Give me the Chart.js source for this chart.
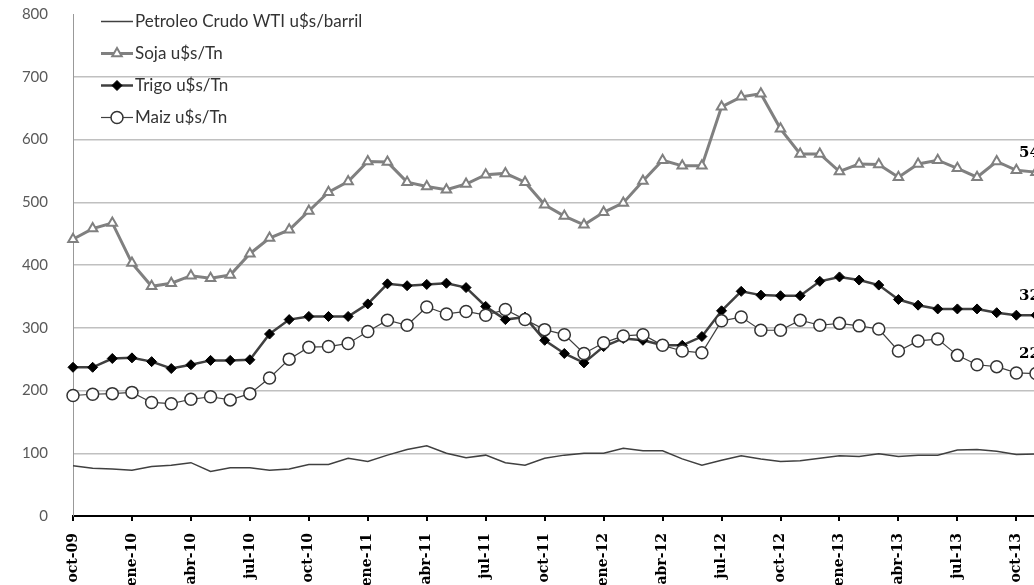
<!DOCTYPE html>
<html>
<head>
<meta charset="utf-8">
<script src="https://cdn.jsdelivr.net/npm/chart.js@4"></script>
<style>
  html, body { margin: 0; padding: 0; background: #fff; overflow: hidden; }
  #wrap { width: 1034px; height: 585px; overflow: hidden; }
</style>
</head>
<body>
<div id="wrap"><canvas id="myChart" width="1080" height="585"></canvas></div>
<script>
// meses oct-09 .. nov-13
const meses = ['oct-09','nov-09','dic-09','ene-10','feb-10','mar-10','abr-10','may-10','jun-10','jul-10','ago-10','sep-10',
  'oct-10','nov-10','dic-10','ene-11','feb-11','mar-11','abr-11','may-11','jun-11','jul-11','ago-11','sep-11',
  'oct-11','nov-11','dic-11','ene-12','feb-12','mar-12','abr-12','may-12','jun-12','jul-12','ago-12','sep-12',
  'oct-12','nov-12','dic-12','ene-13','feb-13','mar-13','abr-13','may-13','jun-13','jul-13','ago-13','sep-13',
  'oct-13','nov-13'];

const petroleo = [80,76,75,73,79,81,85,71,77,77,73,75,82,82,92,87,97,106,112,100,93,97,85,81,
  92,97,100,100,108,104,104,91,81,89,96,91,87,88,92,96,95,99,95,97,97,105,106,103,98,99];
const soja = [441,458,467,403,366,371,383,379,384,418,443,456,486,516,533,565,564,532,525,520,529,544,546,532,
  496,478,464,484,499,534,567,558,558,652,668,673,617,577,577,549,561,560,540,561,567,554,540,565,551,548];
const trigo = [237,237,251,252,246,235,241,248,248,249,290,313,318,318,318,338,370,367,369,371,364,334,313,317,
  280,259,244,270,283,280,272,272,286,327,358,352,351,351,374,381,376,368,345,336,330,330,330,324,320,320];
const maiz = [192,194,195,197,181,179,186,190,185,195,220,250,269,270,275,294,312,304,333,322,326,320,329,313,
  297,289,259,276,287,289,272,263,260,311,317,296,296,312,304,307,303,298,263,279,282,256,241,238,228,227];

const yTicks = [0,100,200,300,400,500,600,700,800];

// leyenda vertical dentro del grafico
const legendaPlugin = {
  id: 'legenda',
  afterDraw(chart) {
    const ctx = chart.ctx;
    ctx.save();
    chart.data.datasets.forEach((ds, i) => {
      const y = 21.5 + i * 32;
      ctx.strokeStyle = ds.borderColor;
      ctx.lineWidth = ds.borderWidth;
      ctx.beginPath();
      ctx.moveTo(101, y);
      ctx.lineTo(133, y);
      ctx.stroke();
      if (ds.pointRadius > 0) {
        ctx.fillStyle = ds.pointBackgroundColor;
        ctx.strokeStyle = ds.pointBorderColor;
        ctx.lineWidth = ds.pointBorderWidth;
        Chart.helpers.drawPoint(ctx, {pointStyle: ds.pointStyle, radius: ds.pointRadius, borderWidth: ds.pointBorderWidth, rotation: 0}, 117, y);
      }
      ctx.fillStyle = '#333';
      ctx.font = '17px Lato';
      ctx.textAlign = 'left';
      ctx.textBaseline = 'middle';
      ctx.fillText(ds.label, 135, y);
    });
    ctx.restore();
  }
};

// etiqueta con el ultimo valor
const ultimoPlugin = {
  id: 'ultimo',
  afterDatasetsDraw(chart) {
    const ctx = chart.ctx;
    ctx.save();
    ctx.fillStyle = '#000';
    ctx.font = 'bold 15px "DejaVu Serif"';
    ctx.textAlign = 'left';
    ctx.textBaseline = 'middle';
    [1, 2, 3].forEach(i => {
      const meta = chart.getDatasetMeta(i);
      const pt = meta.data[meta.data.length - 1];
      const v = chart.data.datasets[i].data[meta.data.length - 1];
      ctx.fillText(String(v), pt.x - 17, pt.y - 19);
    });
    ctx.restore();
  }
};

window.onload = function() {
  let ctx = document.getElementById('myChart').getContext('2d');
  let myChart = new Chart(ctx, {
    type: 'line',
    data: {
      labels: meses,
      datasets: [{
        label: 'Petroleo Crudo WTI u$s/barril',
        data: petroleo,
        borderColor: '#404040',
        borderWidth: 1.5,
        pointRadius: 0,
        order: 3
      }, {
        label: 'Soja u$s/Tn',
        data: soja,
        borderColor: '#808080',
        borderWidth: 3,
        pointStyle: 'triangle',
        pointRadius: 5.5,
        pointBackgroundColor: '#fff',
        pointBorderColor: '#808080',
        pointBorderWidth: 2,
        order: 2
      }, {
        label: 'Trigo u$s/Tn',
        data: trigo,
        borderColor: '#404040',
        borderWidth: 2.5,
        pointStyle: 'rectRot',
        pointRadius: 5,
        pointBackgroundColor: '#000',
        pointBorderColor: '#000',
        pointBorderWidth: 1,
        order: 1
      }, {
        label: 'Maiz u$s/Tn',
        data: maiz,
        borderColor: '#404040',
        borderWidth: 1.2,
        pointStyle: 'circle',
        pointRadius: 6,
        pointBackgroundColor: '#fff',
        pointBorderColor: '#333',
        pointBorderWidth: 1.5,
        order: 0
      }]
    },
    options: {
      responsive: false,
      animation: false,
      layout: { padding: { top: 14, right: 44, left: 0, bottom: 0 } },
      plugins: {
        legend: { display: false },
        tooltip: { enabled: false }
      },
      elements: { line: { tension: 0 } },
      scales: {
        x: {
          offset: false,
          afterFit: s => { s.height = 69; },
          grid: {
            drawOnChartArea: false,
            drawTicks: true,
            tickLength: 5,
            lineWidth: 2,
            color: c => (c.index % 3 === 0 ? '#000' : 'rgba(0,0,0,0)')
          },
          border: { color: '#000', width: 2 },
          ticks: {
            autoSkip: false,
            minRotation: 90,
            maxRotation: 90,
            padding: 12,
            color: '#000',
            font: { family: '"DejaVu Serif"', size: 14, weight: 'bold' },
            callback: function(v, i) { return i % 3 === 0 ? meses[i] : ''; }
          }
        },
        y: {
          min: 0,
          max: 800,
          afterFit: s => { s.width = 73; },
          afterBuildTicks: s => { s.ticks = yTicks.map(v => ({ value: v })); },
          grid: {
            drawTicks: true,
            tickLength: 22,
            tickColor: 'rgba(0,0,0,0)',
            lineWidth: 1.5,
            color: c => (c.tick && c.tick.value === 800 ? 'rgba(0,0,0,0)' : '#c0c0c0')
          },
          border: { color: '#999', width: 1 },
          ticks: {
            padding: 3,
            color: '#595959',
            font: { family: 'Lato', size: 15 }
          }
        }
      }
    },
    plugins: [legendaPlugin, ultimoPlugin]
  });
};
</script>
</body>
</html>
